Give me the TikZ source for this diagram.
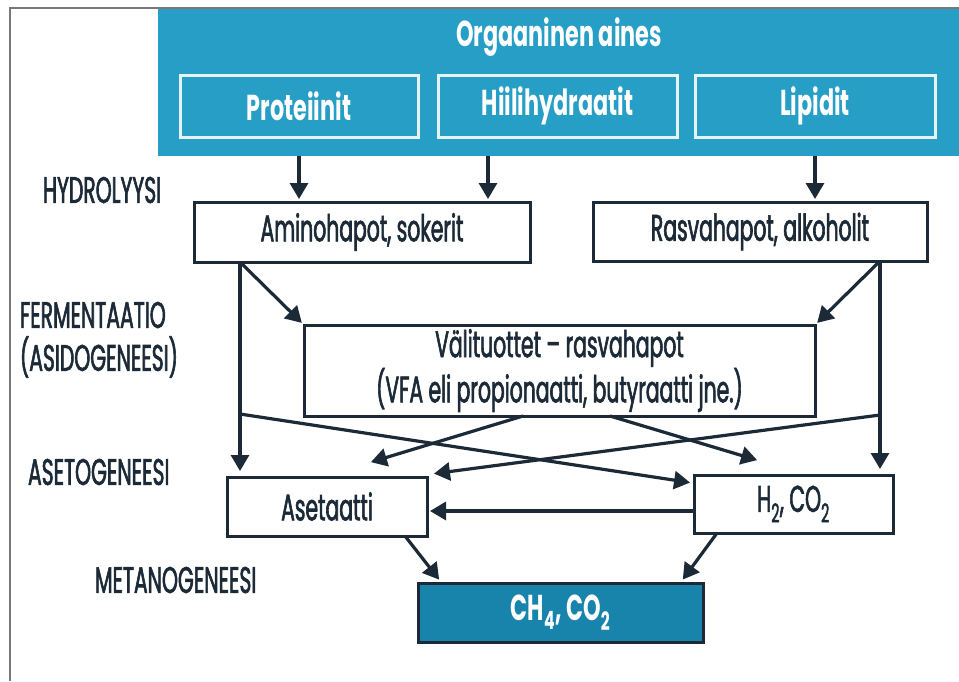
\documentclass[tikz,border=0pt]{standalone}
\usepackage{fontspec}
\setmainfont{Poppins}[UprightFeatures={FakeStretch=0.55,FakeBold=1.6},BoldFeatures={FakeStretch=0.62}]
\usetikzlibrary{arrows.meta}
\definecolor{ink}{RGB}{28,42,56}
\definecolor{topblue}{RGB}{38,158,198}
\definecolor{chblue}{RGB}{24,132,172}
\definecolor{boxline}{RGB}{230,242,246}
\definecolor{framegray}{RGB}{120,120,120}
\begin{document}
\begin{tikzpicture}[x=1pt,y=-1pt,
  every node/.style={inner sep=0pt, outer sep=0pt},
  txt/.style={font=\fontsize{37}{38}\selectfont},
  btxt/.style={font=\fontsize{36}{38}\selectfont\bfseries},
  wbox/.style={draw=ink, line width=3pt, fill=white, text=ink, txt, align=center},
  bbox/.style={draw=boxline, line width=3pt, fill=topblue, text=white, btxt},
  stage/.style={anchor=west, text=ink, txt},
  arr/.style={draw=ink, line width=3.2pt, -{Triangle[width=18pt,length=16pt]}, shorten >=3pt}]
\useasboundingbox (0,0) rectangle (959,681);
\fill[white] (0,0) rectangle (959,681);
% top blue panel
\node[fill=topblue, minimum width=801pt, minimum height=148pt] (org) at (558.5,82) {};
\draw[framegray, line width=1.5pt] (10,681) -- (10,8) -- (959,8);
\node[text=white, btxt] (title) at (559,37) {Orgaaninen aines};
\node[bbox, minimum width=238pt, minimum height=62pt] (prot) at (299,106) {Proteiinit};
\node[bbox, minimum width=239pt, minimum height=62pt] (hiili) at (557.5,106) {Hiilihydraatit};
\node[bbox, minimum width=240pt, minimum height=62pt] (lip) at (815,106) {Lipidit};
% stage labels
\node[stage] (l1) at (43,190) {HYDROLYYSI};
\node[stage] (l2) at (20,315) {FERMENTAATIO};
\node[stage] (l3) at (20,357) {(ASIDOGENEESI)};
\node[stage] (l4) at (28,472) {ASETOGENEESI};
\node[stage] (l5) at (95,580) {METANOGENEESI};
% boxes
\node[wbox, minimum width=336pt, minimum height=60pt] (amino) at (362,232) {Aminohapot, sokerit};
\node[wbox, minimum width=334pt, minimum height=59pt] (rasva) at (760,231.5) {Rasvahapot, alkoholit};
\node[wbox, minimum width=511pt, minimum height=91pt] (vali) at (559.5,370.5) {Välituottet -- rasvahapot\\(VFA eli propionaatti, butyraatti jne.)};
\node[wbox, minimum width=200pt, minimum height=59pt] (aset) at (327,506.5) {Asetaatti};
\node[wbox, minimum width=199pt, minimum height=58pt] (h2) at (793.5,504) {H\textsubscript{2}, CO\textsubscript{2}};
\node[wbox, fill=chblue, text=white, minimum width=285pt, minimum height=59pt, btxt] (ch4) at (560.5,612.5) {CH\textsubscript{4}, CO\textsubscript{2}};
% helper coordinates
\coordinate (hydA) at (488,156);
\coordinate (aL) at (240,262);
\coordinate (rR) at (880,261);
\coordinate (aX) at (240,414);
\coordinate (rX) at (880,415);
\coordinate (h2in) at (693,483);
\coordinate (asin) at (431,474);
\coordinate (vL) at (523,416);
\coordinate (vLt) at (368,463);
\coordinate (vR) at (610,416);
\coordinate (vRt) at (760,461);
\coordinate (asB) at (405,536);
\coordinate (chL) at (441,582);
\coordinate (h2B) at (717,533);
\coordinate (chR) at (681,582);
% arrows
\draw[arr] (prot.south |- org.south) -- (prot.south |- amino.north);
\draw[arr] (hydA) -- (hydA |- amino.north);
\draw[arr] (lip.south |- org.south) -- (lip.south |- rasva.north);
\draw[arr] (aL) -- (vali.north west);
\draw[arr, shorten >=6pt] (aL) -- (aL |- aset.north);
\draw[arr] (rR) -- (vali.north east);
\draw[arr, shorten >=6pt] (rR) -- (rR |- h2.north);
\draw[arr] (aX) -- (h2in);
\draw[arr] (rX) -- (asin);
\draw[arr] (vL) -- (vLt);
\draw[arr] (vR) -- (vRt);
\draw[arr] (h2.west |- 0,511) -- (aset.east |- 0,511);
\draw[arr] (asB) -- (chL);
\draw[arr] (h2B) -- (chR);
\end{tikzpicture}
\end{document}
